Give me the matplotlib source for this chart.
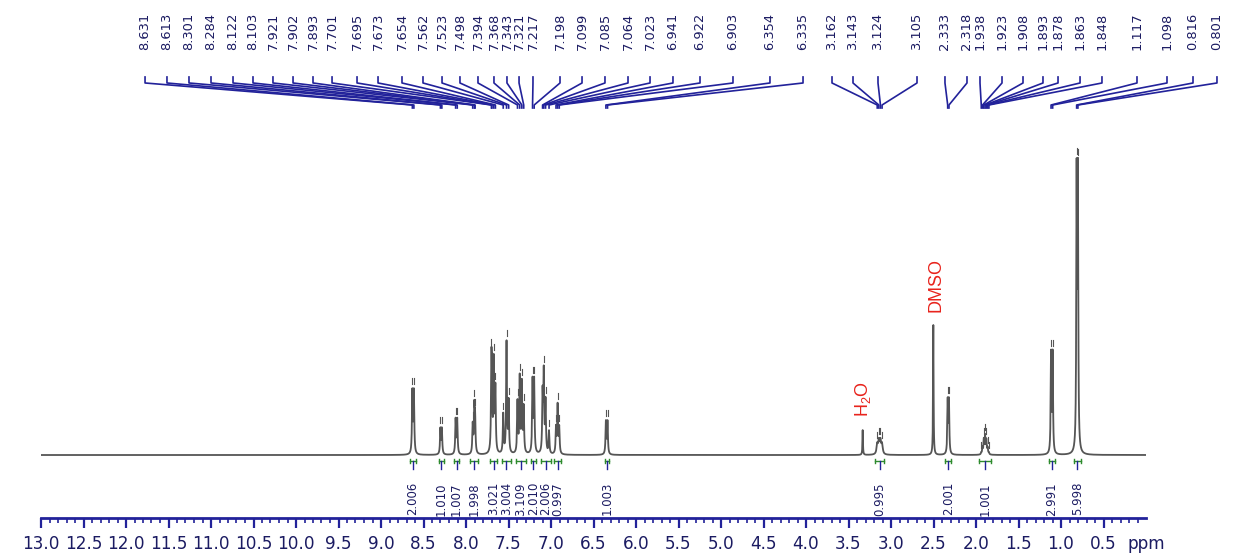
import numpy as np
import matplotlib
matplotlib.use("Agg")
import matplotlib.pyplot as plt

# peak list (ppm) and line heights (relative, tallest ~100)
peak_ppm = [8.631, 8.613, 8.301, 8.284, 8.122, 8.103, 7.921, 7.902, 7.893,
            7.701, 7.695, 7.673, 7.654, 7.562, 7.523, 7.498, 7.394, 7.368,
            7.343, 7.321, 7.217, 7.198, 7.099, 7.085, 7.064, 7.023, 6.941,
            6.922, 6.903, 6.354, 6.335, 3.162, 3.143, 3.124, 3.105, 2.333,
            2.318, 1.938, 1.923, 1.908, 1.893, 1.878, 1.863, 1.848, 1.117,
            1.098, 0.816, 0.801]
peak_height = [20.5, 20.5, 8.4, 8.4, 11.5, 11.5, 9.5, 14.5, 11,
               26, 17, 30, 21, 13, 37, 17, 17, 25,
               23, 15, 24, 24, 19, 26, 17, 7.5, 8.5,
               16, 8.5, 10.8, 10.8, 3.2, 4.2, 4.2, 3.2, 17.5,
               17.5, 0.6, 2.1, 4.6, 6.0, 4.6, 2.1, 0.6, 33,
               33, 90, 90]
peak_width = [0.0055] * 31 + [0.009] * 4 + [0.005] * 13

# solvent signals
solvent_ppm = [3.333, 2.502]
solvent_height = [8.3, 43.3]
solvent_names = ["$\\mathregular{H_2O}$", "DMSO"]

# where the shift labels sit along the top (ppm scale)
label_slot = [11.776, 11.518, 11.259, 11.000, 10.741, 10.506, 10.271, 10.035,
              9.800, 9.576, 9.282, 9.035, 8.753, 8.506, 8.282, 8.071, 7.859,
              7.671, 7.518, 7.376, 7.212, 6.894, 6.635, 6.365, 6.094, 5.835,
              5.565, 5.247, 4.859, 4.424, 4.035, 3.694, 3.447, 3.153, 2.694,
              2.365, 2.106, 1.953, 1.694, 1.447, 1.212, 1.035, 0.776, 0.518,
              0.106, -0.247, -0.553, -0.835]

# integrals
int_from = [8.66, 8.32, 8.14, 7.95, 7.72, 7.58, 7.41, 7.24, 7.12, 6.96, 6.37,
            3.19, 2.36, 1.97, 1.14, 0.85]
int_to = [8.59, 8.26, 8.08, 7.86, 7.63, 7.47, 7.30, 7.18, 7.00, 6.88, 6.32,
          3.08, 2.29, 1.82, 1.07, 0.77]
int_value = ["2.006", "1.010", "1.007", "1.998", "3.021", "3.004", "3.109",
             "2.010", "2.006", "0.997", "1.003", "0.995", "2.001", "1.001",
             "2.991", "5.998"]


def lorentz(x, x0, h, w):
    return h / (1 + ((x - x0) / w) ** 2)


ppm = np.arange(0, 13.0001, 0.0004)
spec = np.zeros_like(ppm)
for p, h, w in zip(peak_ppm, peak_height, peak_width):
    spec += lorentz(ppm, p, h, w)
for p, h in zip(solvent_ppm, solvent_height):
    spec += lorentz(ppm, p, h, 0.0035)


def spec_at(p):
    return np.interp(p, ppm, spec)


navy = "#22229a"
txt_navy = "#1b1b62"

fig = plt.figure(figsize=(12.33, 5.59), dpi=100)
ax = fig.add_axes([41 / 1233, 41 / 559, 1105 / 1233, 518 / 559])
ax.plot(ppm, spec, color="#555555", lw=1.3)
ax.set_xlim(13, 0)
ax.set_ylim(-21, 151.7)

for s in ["top", "left", "right"]:
    ax.spines[s].set_visible(False)
ax.spines["bottom"].set_color(navy)
ax.spines["bottom"].set_linewidth(2)
ax.set_yticks([])
ax.set_xticks(np.arange(0.5, 13.01, 0.5))
ax.set_xticks(np.arange(0.1, 13.01, 0.1), minor=True)
ax.set_xticklabels([f"{v:.1f}" for v in np.arange(0.5, 13.01, 0.5)])
ax.tick_params(axis="x", which="major", length=7, width=1.6, color=navy,
               labelsize=12.2, labelcolor=txt_navy, pad=5)
ax.tick_params(axis="x", which="minor", length=3.5, width=1.2, color=navy)
ax.text(0.0, -0.05, "ppm", transform=ax.get_xaxis_transform(), ha="center",
        va="center", fontsize=12.2, color=txt_navy, clip_on=False)

# peak pick marks
for p in peak_ppm:
    v = spec_at(p)
    ax.plot([p, p], [v + 1.3, v + 3.3], color="#555555", lw=0.8)

# shift labels with connector lines
xt = ax.get_xaxis_transform()
for p, slot in zip(peak_ppm, label_slot):
    ax.text(slot, 0.9035, f"{p:.3f}", transform=xt, rotation=90, ha="center",
            va="bottom", fontsize=9.4, color=txt_navy, clip_on=False)
    ax.plot([slot, slot, p, p], [0.8514, 0.8398, 0.7973, 0.7915], transform=xt,
            color=navy, lw=1.2, clip_on=False)

# integrals
for a, b, val in zip(int_from, int_to, int_value):
    c = (a + b) / 2
    ax.plot([a, b], [-2.0, -2.0], color="#2e8b2e", lw=1.0)
    ax.plot([a, a], [-2.8, -1.2], color="#2e8b2e", lw=1.0)
    ax.plot([b, b], [-2.8, -1.2], color="#2e8b2e", lw=1.0)
    ax.plot([c, c], [-2.0, -4.6], color=navy, lw=1.0)
    ax.text(c, -9.0, val, rotation=90, ha="center", va="top", fontsize=8.4,
            color=txt_navy)

# solvent labels
for p, h, name in zip(solvent_ppm, solvent_height, solvent_names):
    ax.text(p - 0.03 if name == "DMSO" else p, h + 4.3, name, rotation=90,
            ha="center", va="bottom", fontsize=13, color="#e8231c",
            family="Liberation Sans")

fig.savefig("out.png", dpi=100)
